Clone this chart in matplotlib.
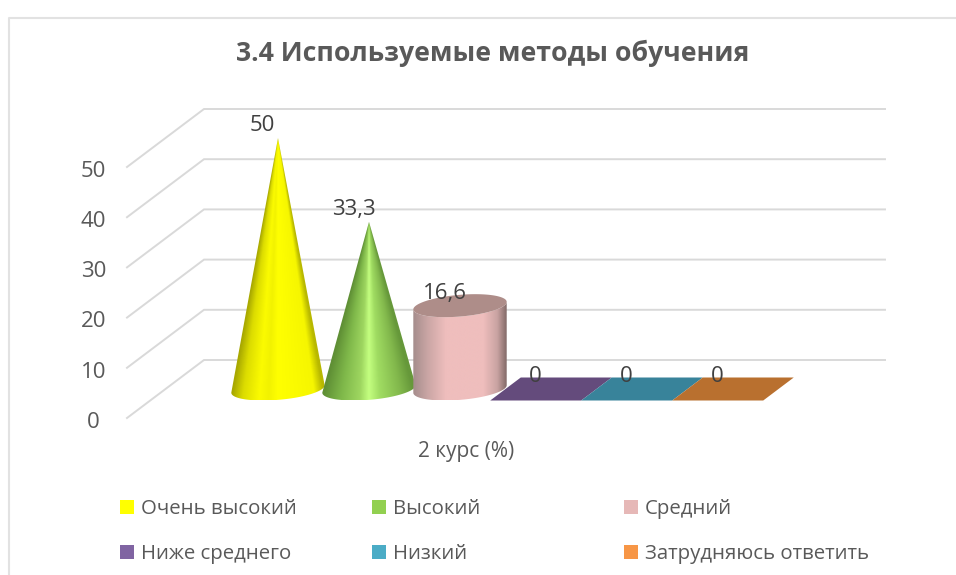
#!/usr/bin/env python3
"""Recreates the 3D cone/cylinder chart on flat matplotlib axes with a skew for depth."""

import numpy as np
import matplotlib
matplotlib.use("Agg")
import matplotlib.pyplot as plt
from matplotlib.colors import LinearSegmentedColormap
from matplotlib.patches import Polygon, Rectangle

plt.rcParams['font.family'] = ['Open Sans', 'DejaVu Sans']

TITLE = "3.4 Используемые методы обучения"
CATEGORY = "2 курс (%)"
series_names = ["Очень высокий", "Высокий", "Средний",
                "Ниже среднего", "Низкий", "Затрудняюсь ответить"]
values = [50, 33.3, 16.6, 0, 0, 0]
value_labels = ["50", "33,3", "16,6", "0", "0", "0"]
shapes = ["cone", "cone", "cylinder", "flat", "flat", "flat"]
y_ticks = [0, 10, 20, 30, 40, 50]

legend_colors = ["#ffff00", "#92d050", "#e6b8b7", "#8064a2", "#4bacc6", "#f79646"]
flat_colors = [None, None, None, "#644b7c", "#38839a", "#b9702f"]
shade_stops = [
    [(0, "#a8a800"), (.12, "#dcdc00"), (.3, "#fbfb00"), (.4, "#f2f200"),
     (.5, "#ffff00"), (.9, "#f6f600"), (1, "#b8b800")],
    [(0, "#5f8f35"), (.2, "#7fb84a"), (.4, "#9ed660"), (.5, "#c4ff80"),
     (.62, "#a0dc62"), (.85, "#82b84c"), (1, "#66983a")],
    [(0, "#a58d8c"), (.15, "#c9a5a4"), (.35, "#efbebd"), (.75, "#efbebd"),
     (.9, "#c9a3a2"), (1, "#836a68")],
]
CYL_TOP = "#ae8d89"
GRID = "#d9d9d9"
TEXT = "#595959"
LABEL = "#404040"

W, H = 956, 575
PX_X = 91.0        # pixels per category
PX_Y = 5.02        # pixels per value unit
X0, Y0 = 278, 389  # pixel of category 0, value 0, middle of the floor depth
DEPTH_X = 77 / PX_X
DEPTH_Y = 58 / PX_Y
HALF_W = 0.485     # column half width, in categories
HALF_D = 23 / 58 / 2  # column half depth, as a share of the floor depth


def proj(x, v, d=0.0):
    """Category, value and depth (-.5 front, +.5 back) to flat axes coords."""
    return x + d * DEPTH_X, v + d * DEPTH_Y


def ellipse(x, v, n=120):
    t = np.linspace(0, 2 * np.pi, n, endpoint=False)
    return proj(x + HALF_W * np.cos(t), v, HALF_D * np.sin(t))


def lower_arc(x, v):
    """Front part of the base ellipse, left extreme to right extreme."""
    ex, ey = ellipse(x, v)
    ex, ey = np.roll(ex, -ex.argmin()), np.roll(ey, -ex.argmin())
    stop = ex.argmax() + 1
    return ex[:stop], ey[:stop]


def shade(ax, x, top, clip, stops, taper):
    """Horizontal shading clipped to a shape; bands converge to the tip on cones."""
    cmap = LinearSegmentedColormap.from_list("s", stops)
    ex, ey = ellipse(x, 0)
    left, right = ex.min(), ex.max()
    low = ey.min()
    xs = np.linspace(left, right, 300)
    ys = np.linspace(low, top, 300)
    gx, gy = np.meshgrid(xs, ys)
    if taper:
        scale = np.clip((top - gy) / (top - low), 0.01, 1)
    else:
        scale = np.ones_like(gy)
    u = 0.5 + (gx - x) / (right - left) / scale
    im = ax.imshow(np.clip(u, 0, 1), cmap=cmap, vmin=0, vmax=1, origin='lower',
                   extent=(left, right, low, top), aspect='auto',
                   interpolation='bilinear', zorder=3)
    patch = Polygon(clip, closed=True, transform=ax.transData, fc='none', ec='none')
    ax.add_patch(patch)
    im.set_clip_path(patch)


fig = plt.figure(figsize=(W / 100, H / 100), dpi=100)
ax = fig.add_axes([0, 0, 1, 1])
ax.axis('off')
xlim = ((0 - X0) / PX_X, (W - X0) / PX_X)
ylim = ((Y0 - H) / PX_Y, Y0 / PX_Y)

# chart border, only left and top are inside the crop
frame_x = (9.5 - X0) / PX_X
frame_y = (Y0 - 18) / PX_Y
ax.plot([frame_x, frame_x, xlim[1]], [ylim[0], frame_y, frame_y], color="#e2e2e2", lw=1.5, zorder=0)

# gridlines: back wall plus the diagonal on the side wall
right_end = (885 - X0) / PX_X
for tick in y_ticks:
    bx, by = proj((204 - X0) / PX_X - 0.5 * DEPTH_X, tick, 0.5)
    fx, fy = proj((204 - X0) / PX_X - 0.5 * DEPTH_X, tick, -0.5)
    ax.plot([fx, bx, right_end], [fy, by, by], color=GRID, lw=1.4, zorder=1,
            solid_joinstyle='miter')
    ax.annotate(str(tick), (fx, fy), xytext=(-24, -7), textcoords='offset points',
                ha='center', va='baseline', color=TEXT, fontsize=16)

for i, (val, shape) in enumerate(zip(values, shapes)):
    if shape == "cone":
        ax_, ay_ = lower_arc(i, 0)
        pts = np.column_stack([np.r_[ax_, i], np.r_[ay_, val]])
        shade(ax, i, val, pts, shade_stops[i], True)
    elif shape == "cylinder":
        ax_, ay_ = lower_arc(i, 0)
        tx, ty = lower_arc(i, val)
        pts = np.column_stack([np.r_[ax_, tx[::-1]], np.r_[ay_, ty[::-1]]])
        shade(ax, i, val + 3, pts, shade_stops[i], False)
        ex, ey = ellipse(i, val)
        ax.fill(ex, ey, color=CYL_TOP, zorder=4, lw=0)
    else:
        corners = [proj(i - 0.5, val, -HALF_D), proj(i + 0.5, val, -HALF_D),
                   proj(i + 0.5, val, HALF_D), proj(i - 0.5, val, HALF_D)]
        ax.add_patch(Polygon(corners, closed=True, fc=flat_colors[i], ec='none', zorder=3))
    ax.annotate(value_labels[i], (i, val), xytext=(-11, 5), textcoords='offset points',
                ha='center', va='baseline', color=LABEL, fontsize=16, zorder=6)

ax.set_xlim(xlim)
ax.set_ylim(ylim)

# title, category label, legend placed in pixels of the figure
fig.text(493 / W, 1 - 53 / H, TITLE, ha='center', va='center', color=TEXT,
         fontsize=19.2, fontweight='bold')
fig.text(466 / W, 1 - 451 / H, CATEGORY, ha='center', va='center', color=TEXT, fontsize=15)

for k, (name, col) in enumerate(zip(series_names, legend_colors)):
    lx = 120 + 252 * (k % 3)
    ly = 507 + 45 * (k // 3)
    fig.add_artist(Rectangle((lx / W, 1 - (ly + 7) / H), 14 / W, 14 / H, fc=col, ec='none',
                             transform=fig.transFigure))
    fig.text((lx + 21) / W, 1 - (ly + 7) / H, name, ha='left', va='baseline', color=TEXT, fontsize=14.7)

fig.savefig("out.png", dpi=100)
